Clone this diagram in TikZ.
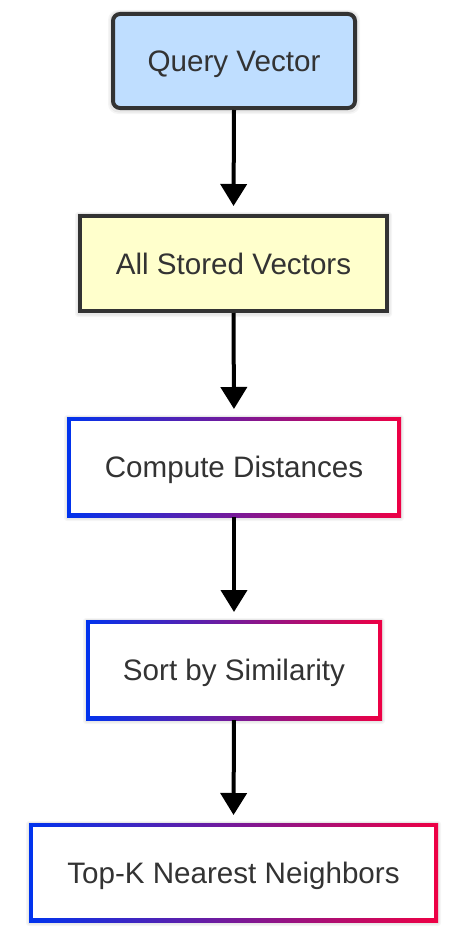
\documentclass[tikz,border=0pt]{standalone}
\usepackage{fontspec}
\setmainfont{Liberation Sans}
\usetikzlibrary{arrows.meta,backgrounds,calc}
\definecolor{txt}{HTML}{333333}
\definecolor{qfill}{HTML}{BFDEFF}
\definecolor{sfill}{HTML}{FFFFCC}
\definecolor{gblue}{HTML}{0033EE}
\definecolor{gred}{HTML}{EE0044}
\begin{document}
\begin{tikzpicture}[x=1pt,y=-1pt,
  lbl/.style={font=\fontsize{29.6}{34}\selectfont, text=txt, inner sep=0pt, text height=21pt, text depth=0pt},
  solidbox/.style={lbl, draw=txt, line width=4pt},
  gradbox/.style={lbl, fill=white, outer sep=4pt},
  flow/.style={line width=4pt, -{Triangle[length=22pt,width=26pt]}, shorten >=8pt}]
\useasboundingbox (0,0) rectangle (461,942);
\node[solidbox, fill=qfill, rounded corners=7pt, minimum width=242pt, minimum height=94pt] (q) at (234,61) {Query Vector};
\node[solidbox, fill=sfill, minimum width=307pt, minimum height=95pt] (a) at (233.5,263.5) {All Stored Vectors};
\node[gradbox, minimum width=326pt, minimum height=92pt] (c) at (234,467) {Compute Distances};
\node[gradbox, minimum width=288pt, minimum height=92pt] (s) at (234,670) {Sort by Similarity};
\node[gradbox, minimum width=401pt, minimum height=91pt] (t) at (233.5,872.5) {Top-K Nearest Neighbors};
\draw[flow] (q.south) -- (a.north);
\draw[flow] (a.south) -- (c.north);
\draw[flow] (c.south) -- (s.north);
\draw[flow] (s.south) -- (t.north);
\begin{scope}[on background layer]
  \fill[white] (0,0) rectangle (461,942);
  \fill[black, opacity=0.04, rounded corners=10pt] ($(q.south west)+(-3,4)$) rectangle ($(q.north east)+(3,-2)$);
  \fill[black, opacity=0.05, rounded corners=9pt] ($(q.south west)+(-1.5,2.5)$) rectangle ($(q.north east)+(1.5,-1)$);
  \foreach \n in {a,c,s,t} {
    \fill[black, opacity=0.04, rounded corners=3pt] ($(\n.south west)+(-3,4)$) rectangle ($(\n.north east)+(3,-2)$);
    \fill[black, opacity=0.05, rounded corners=1.5pt] ($(\n.south west)+(-1.5,2.5)$) rectangle ($(\n.north east)+(1.5,-1)$);
  }
  \foreach \n in {c,s,t} {
    \shade[left color=gblue, right color=gred] (\n.south west) rectangle (\n.north east);
  }
\end{scope}
\end{tikzpicture}
\end{document}
